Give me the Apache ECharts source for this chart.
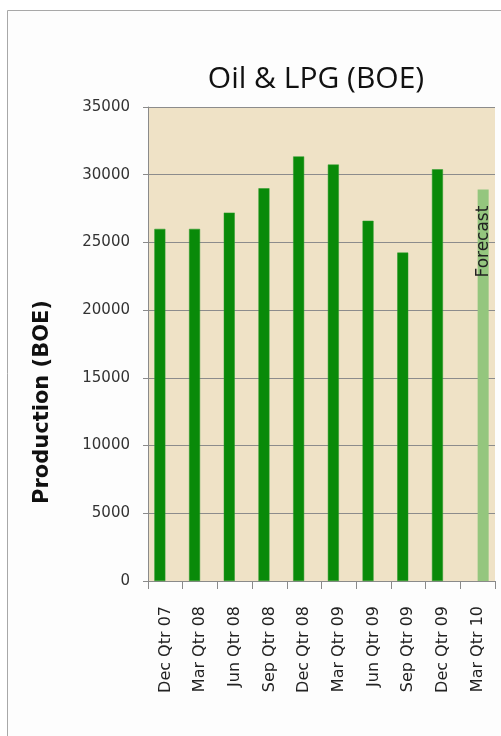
<!DOCTYPE html>
<html>
<head>
<meta charset="utf-8">
<script src="https://cdn.jsdelivr.net/npm/echarts@6/dist/echarts.min.js"></script>
<style>
  html, body { margin: 0; padding: 0; background: #ffffff; }
  #chart { width: 501px; height: 736px; }
</style>
</head>
<body>
<div id="chart"></div>
<script>
const categories = ['Dec Qtr 07', 'Mar Qtr 08', 'Jun Qtr 08', 'Sep Qtr 08', 'Dec Qtr 08',
                    'Mar Qtr 09', 'Jun Qtr 09', 'Sep Qtr 09', 'Dec Qtr 09', 'Mar Qtr 10'];
const actualValues = [26000, 26000, 27200, 29000, 31350, 30750, 26600, 24250, 30400, null];
const forecastValues = [null, null, null, null, null, null, null, null, null, 28900];
const yTicks = { min: 0, max: 35000, interval: 5000 };
const titleText = 'Oil & LPG (BOE)';
const yAxisTitle = 'Production (BOE)';
const forecastLabel = 'Forecast';

const chart = echarts.init(document.getElementById('chart'), null, { renderer: 'canvas' });

chart.setOption({
  backgroundColor: '#ffffff',
  animation: false,
  graphic: [
    {
      type: 'rect', z: -10, silent: true,
      shape: { x: 7.5, y: 10.5, width: 600, height: 800 },
      style: { fill: '#fdfdfd', stroke: '#a8a8a8', lineWidth: 1 }
    },
    {
      type: 'text', silent: true,
      x: 316, y: 79,
      style: {
        text: titleText, fill: '#111',
        font: '30px "Open Sans", sans-serif',
        align: 'center', verticalAlign: 'middle'
      }
    },
    {
      type: 'text', silent: true,
      x: 43, y: 402, rotation: Math.PI / 2,
      style: {
        text: yAxisTitle, fill: '#111',
        font: 'bold 21px "DejaVu Sans", sans-serif',
        align: 'center', verticalAlign: 'middle'
      }
    }
  ],
  grid: {
    left: 148, right: 6, top: 107, bottom: 155,
    show: true, backgroundColor: '#efe2c6', borderWidth: 0
  },
  xAxis: {
    type: 'category',
    data: categories,
    boundaryGap: true,
    axisLine: { show: true, lineStyle: { color: '#8a8a8a', width: 1 } },
    axisTick: { show: true, length: 8, alignWithLabel: false, lineStyle: { color: '#8a8a8a' } },
    axisLabel: {
      rotate: 90, interval: 0, margin: 25,
      color: '#222', fontSize: 16, fontFamily: '"DejaVu Sans", sans-serif'
    },
    splitLine: { show: false }
  },
  yAxis: {
    type: 'value',
    min: yTicks.min, max: yTicks.max, interval: yTicks.interval,
    axisLine: { show: true, lineStyle: { color: '#8a8a8a', width: 1 } },
    axisTick: { show: true, length: 5, lineStyle: { color: '#8a8a8a' } },
    axisLabel: {
      margin: 18, color: '#333', fontSize: 15, fontFamily: '"DejaVu Sans", sans-serif',
      formatter: function (v) { return String(v); }
    },
    splitLine: { show: true, lineStyle: { color: '#8c8c8c', width: 1 } }
  },
  series: [
    {
      name: 'Actual', type: 'bar', data: actualValues,
      barWidth: 11, barGap: '0%',
      itemStyle: { color: '#098a09', borderColor: '#2a9a2a', borderWidth: 0.5 }
    },
    {
      name: 'Forecast', type: 'bar', data: forecastValues,
      barWidth: 11, barGap: '0%',
      itemStyle: { color: '#94c67e' },
      label: {
        show: true, position: 'insideTop', rotate: 90,
        align: 'right', verticalAlign: 'middle', distance: 16,
        formatter: forecastLabel,
        color: '#222', fontSize: 17, fontFamily: '"DejaVu Sans", sans-serif'
      }
    }
  ]
});
</script>
</body>
</html>
